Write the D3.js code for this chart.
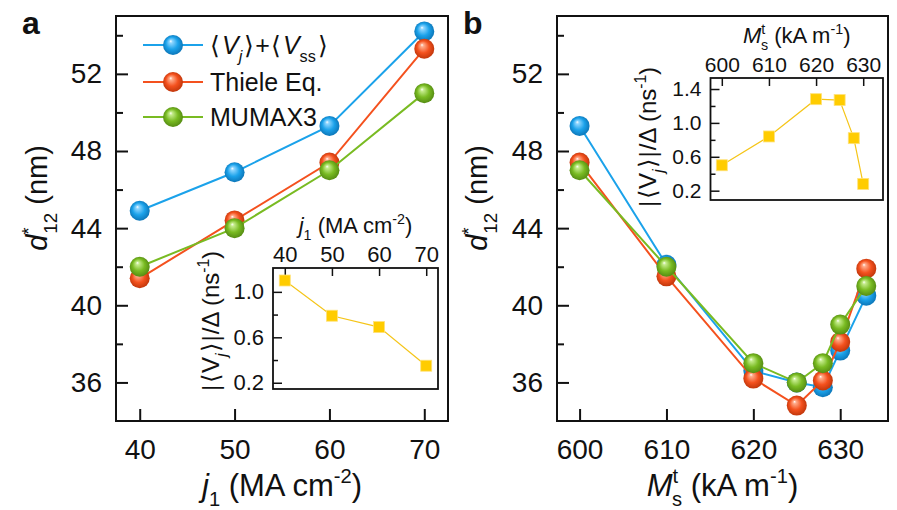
<!DOCTYPE html>
<html>
<head>
<meta charset="utf-8">
<script src="https://cdn.jsdelivr.net/npm/d3@7"></script>
<style>
  body { margin: 0; background: #fff; }
  svg text { font-family: "Liberation Sans", Arial, sans-serif; fill: #111; }
  .tick line { stroke: #111; stroke-width: 2; }
</style>
</head>
<body>
<div id="chart"></div>
<script>

// panel a : j1 (MA cm-2)
const jVals = [40, 50, 60, 70];
const aBlue = [44.9, 46.9, 49.3, 54.2];
const aRed = [41.4, 44.4, 47.4, 53.3];
const aGreen = [42.0, 44.0, 47.0, 51.0];
const insetAVals = [1.1, 0.79, 0.69, 0.35];

// panel b : Ms^t (kA m-1)
const msVals = [600, 610, 620, 625, 628, 630, 633];
const bBlue = [49.3, 42.1, 36.6, 36.0, 35.75, 37.65, 40.5];
const bRed = [47.4, 41.5, 36.2, 34.8, 36.1, 38.1, 41.9];
const bGreen = [47.0, 42.0, 37.0, 36.0, 37.0, 39.0, 41.0];
const insetBX = [600, 610, 620, 625, 628, 630];
const insetBVals = [0.5, 0.84, 1.28, 1.27, 0.82, 0.28];

// ticks
const yMajor = [36, 40, 44, 48, 52];
const yMinor = [38, 42, 46, 50, 54];
const jTicks = [40, 50, 60, 70];
const msTicks = [600, 610, 620, 630];
const insetAYMajor = [0.2, 0.6, 1.0];
const insetAYMinor = [0.4, 0.8];
const insetBYMajor = [0.2, 0.6, 1.0, 1.4];
const insetBYMinor = [0.4, 0.8, 1.2];

const series = [
  {name: "blue", color: "#1ba2ea", light: "#8fd6ff", dark: "#0a6fb0"},
  {name: "red", color: "#f4511e", light: "#ffab8a", dark: "#b83208"},
  {name: "green", color: "#79bb22", light: "#c5ec8c", dark: "#4f8410"}
];
const yellow = "#ffcc00";

const W = 897, H = 510;
const frameA = {x0: 116, x1: 448, y0: 16, y1: 421};
const frameB = {x0: 557, x1: 888, y0: 16, y1: 421};

var svg = d3.select("#chart").append("svg")
  .attr("width", W).attr("height", H);

// sphere gradients
var defs = svg.append("defs");
series.forEach(s => {
  var g = defs.append("radialGradient")
    .attr("id", "grad-" + s.name)
    .attr("cx", "50%").attr("cy", "50%").attr("r", "55%")
    .attr("fx", "38%").attr("fy", "30%");
  g.append("stop").attr("offset", "0%").attr("stop-color", "#ffffff");
  g.append("stop").attr("offset", "14%").attr("stop-color", s.light);
  g.append("stop").attr("offset", "55%").attr("stop-color", s.color);
  g.append("stop").attr("offset", "100%").attr("stop-color", s.dark);
});

// rich text helper: parts = [{t, it, sub, sup, dx}]
function rich(sel, parts, fs) {
  var shift = 0;
  parts.forEach(p => {
    var ts = sel.append("tspan").text(p.t);
    var target = p.sub ? 0.33 * fs : (p.sup ? -0.42 * fs : 0);
    if (target !== shift) { ts.attr("dy", target - shift); shift = target; }
    if (p.dx) ts.attr("dx", p.dx);
    if (p.it) ts.attr("font-style", "italic");
    if (p.sub || p.sup) ts.attr("font-size", (0.65 * fs) + "px");
  });
  return sel;
}

var x_a = d3.scaleLinear().domain([37.5, 72.5]).range([frameA.x0, frameA.x1]);
var x_b = d3.scaleLinear().domain([597.4, 635.5]).range([frameB.x0, frameB.x1]);
var y = d3.scaleLinear().domain([34, 55]).range([frameA.y1, frameA.y0]);

function drawFrame(g, f) {
  g.append("rect")
    .attr("x", f.x0).attr("y", f.y0)
    .attr("width", f.x1 - f.x0).attr("height", f.y1 - f.y0)
    .attr("fill", "none").attr("stroke", "#111").attr("stroke-width", 2);
}

function drawMainAxes(g, f, x, xTicks) {
  var yAx = g.append("g").attr("transform", "translate(" + f.x0 + ",0)")
    .call(d3.axisLeft(y).tickValues(yMajor).tickSize(-12).tickPadding(14));
  yAx.selectAll("text").style("font-size", "28px");
  g.append("g").attr("transform", "translate(" + f.x0 + ",0)")
    .call(d3.axisLeft(y).tickValues(yMinor).tickSize(-7).tickFormat(""));
  var xAx = g.append("g").attr("transform", "translate(0," + f.y1 + ")")
    .call(d3.axisBottom(x).tickValues(xTicks).tickSize(-12).tickPadding(12));
  xAx.selectAll("text").style("font-size", "28px").attr("dy", "0.92em");
  g.selectAll(".domain").remove();
  drawFrame(g, f);
}

function drawSeries(g, x, xs, vals, s) {
  var pts = xs.map((v, i) => [x(v), y(vals[i])]);
  g.append("path")
    .attr("d", d3.line()(pts))
    .attr("fill", "none").attr("stroke", s.color).attr("stroke-width", 2);
  g.selectAll("circle." + s.name).data(pts).enter().append("circle")
    .attr("class", s.name)
    .attr("cx", d => d[0]).attr("cy", d => d[1]).attr("r", 10)
    .attr("fill", "url(#grad-" + s.name + ")");
}

function drawInset(g, f, ix, iy, xTicks, yMaj, yMin, xs, vals, fsTick) {
  var yAx = g.append("g").attr("transform", "translate(" + f.x0 + ",0)")
    .call(d3.axisLeft(iy).tickValues(yMaj).tickSize(-9).tickPadding(9).tickFormat(d3.format(".1f")));
  yAx.selectAll("text").style("font-size", fsTick + "px");
  g.append("g").attr("transform", "translate(" + f.x0 + ",0)")
    .call(d3.axisLeft(iy).tickValues(yMin).tickSize(-5).tickFormat(""));
  var xAx = g.append("g").attr("transform", "translate(0," + f.y0 + ")")
    .call(d3.axisTop(ix).tickValues(xTicks).tickSize(-8).tickPadding(6));
  xAx.selectAll("text").style("font-size", fsTick + "px");
  g.selectAll(".domain").remove();
  g.selectAll(".tick line").style("stroke-width", 1.5);
  g.append("rect")
    .attr("x", f.x0).attr("y", f.y0)
    .attr("width", f.x1 - f.x0).attr("height", f.y1 - f.y0)
    .attr("fill", "none").attr("stroke", "#111").attr("stroke-width", 1.8);
  var pts = xs.map((v, i) => [ix(v), iy(vals[i])]);
  g.append("path").attr("d", d3.line()(pts))
    .attr("fill", "none").attr("stroke", "#f5c518").attr("stroke-width", 1.2);
  g.selectAll("rect.sq").data(pts).enter().append("rect")
    .attr("class", "sq")
    .attr("x", d => d[0] - 5.5).attr("y", d => d[1] - 5.5)
    .attr("width", 11).attr("height", 11)
    .attr("fill", yellow).attr("stroke", "#ffe27a").attr("stroke-width", 0.8);
}

const jTitle = [{t: "j", it: true}, {t: "1", sub: true}, {t: " (MA cm"}, {t: "-2", sup: true}, {t: ")"}];
const msTitle = fs => [{t: "M", it: true}, {t: "t", sup: true}, {t: "s", sub: true, dx: -0.2 * fs}, {t: " (kA m"}, {t: "-1", sup: true}, {t: ")"}];
const dTitle = fs => [{t: "d", it: true}, {t: "*", sup: true}, {t: "12", sub: true, dx: -0.22 * fs}, {t: " (nm)"}];
const vTitle = fs => [{t: "|"}, {t: "\u27E8", dx: 2}, {t: "V", dx: 1}, {t: "j", it: true, sub: true}, {t: "\u27E9", dx: 1}, {t: "|", dx: 2},
  {t: "/\u0394 (ns", dx: 1}, {t: "-1", sup: true}, {t: ")"}];

// ---------- PANEL A ----------
var ga = svg.append("g");
drawMainAxes(ga, frameA, x_a, jTicks);
drawSeries(ga, x_a, jVals, aBlue, series[0]);
drawSeries(ga, x_a, jVals, aRed, series[1]);
drawSeries(ga, x_a, jVals, aGreen, series[2]);

ga.append("text").attr("x", 22).attr("y", 34)
  .style("font-size", "32px").style("font-weight", "bold").text("a");

rich(ga.append("text").attr("x", (frameA.x0 + frameA.x1) / 2).attr("y", 496)
  .attr("text-anchor", "middle").style("font-size", "31px"), jTitle, 31);
rich(ga.append("text").attr("transform", "translate(47,198)rotate(-90)")
  .attr("text-anchor", "middle").style("font-size", "29px"), dTitle(29), 29);

// legend
const legendRows = [
  {s: series[0], y: 45, parts: [{t: "\u27E8"}, {t: "V", it: true, dx: 2}, {t: "j", it: true, sub: true}, {t: "\u27E9", dx: 2}, {t: "+", dx: 1},
    {t: "\u27E8", dx: 1}, {t: "V", it: true, dx: 2}, {t: "ss", sub: true}, {t: "\u27E9", dx: 2}]},
  {s: series[1], y: 82, parts: [{t: "Thiele Eq."}]},
  {s: series[2], y: 117, parts: [{t: "MUMAX3"}]}
];
var leg = ga.append("g");
legendRows.forEach(r => {
  leg.append("line").attr("x1", 143).attr("x2", 203).attr("y1", r.y).attr("y2", r.y)
    .attr("stroke", r.s.color).attr("stroke-width", 2);
  leg.append("circle").attr("cx", 173).attr("cy", r.y).attr("r", 10)
    .attr("fill", "url(#grad-" + r.s.name + ")");
  rich(leg.append("text").attr("x", 210).attr("y", r.y + 9).style("font-size", "25px"), r.parts, 25);
});

// inset a
const insetA = {x0: 273, x1: 438, y0: 268, y1: 389};
var ixA = d3.scaleLinear().domain([37.5, 72.5]).range([insetA.x0, insetA.x1]);
var iyA = d3.scaleLinear().domain([0.145, 1.21]).range([insetA.y1, insetA.y0]);
var gia = svg.append("g");
drawInset(gia, insetA, ixA, iyA, jTicks, insetAYMajor, insetAYMinor, jVals, insetAVals, 22);
rich(gia.append("text").attr("x", (insetA.x0 + insetA.x1) / 2).attr("y", 233)
  .attr("text-anchor", "middle").style("font-size", "22px"), jTitle, 22);
rich(gia.append("text").attr("transform", "translate(219,321)rotate(-90)")
  .attr("text-anchor", "middle").style("font-size", "24px"), vTitle(24), 24);

// ---------- PANEL B ----------
var gb = svg.append("g");
drawMainAxes(gb, frameB, x_b, msTicks);
drawSeries(gb, x_b, msVals, bBlue, series[0]);
drawSeries(gb, x_b, msVals, bRed, series[1]);
drawSeries(gb, x_b, msVals, bGreen, series[2]);

gb.append("text").attr("x", 463).attr("y", 34)
  .style("font-size", "32px").style("font-weight", "bold").text("b");

rich(gb.append("text").attr("x", (frameB.x0 + frameB.x1) / 2).attr("y", 496)
  .attr("text-anchor", "middle").style("font-size", "31px"), msTitle(31), 31);
rich(gb.append("text").attr("transform", "translate(487,198)rotate(-90)")
  .attr("text-anchor", "middle").style("font-size", "29px"), dTitle(29), 29);

// inset b
const insetB = {x0: 710.5, x1: 883, y0: 78, y1: 200};
var ixB = d3.scaleLinear().domain([597.6, 634.2]).range([insetB.x0, insetB.x1]);
var iyB = d3.scaleLinear().domain([0.09, 1.53]).range([insetB.y1, insetB.y0]);
var gib = svg.append("g");
drawInset(gib, insetB, ixB, iyB, msTicks, insetBYMajor, insetBYMinor, insetBX, insetBVals, 21);
rich(gib.append("text").attr("x", (insetB.x0 + insetB.x1) / 2).attr("y", 43)
  .attr("text-anchor", "middle").style("font-size", "22px"), msTitle(22), 22);
rich(gib.append("text").attr("transform", "translate(656,137)rotate(-90)")
  .attr("text-anchor", "middle").style("font-size", "24px"), vTitle(24), 24);

</script>
</body>
</html>
